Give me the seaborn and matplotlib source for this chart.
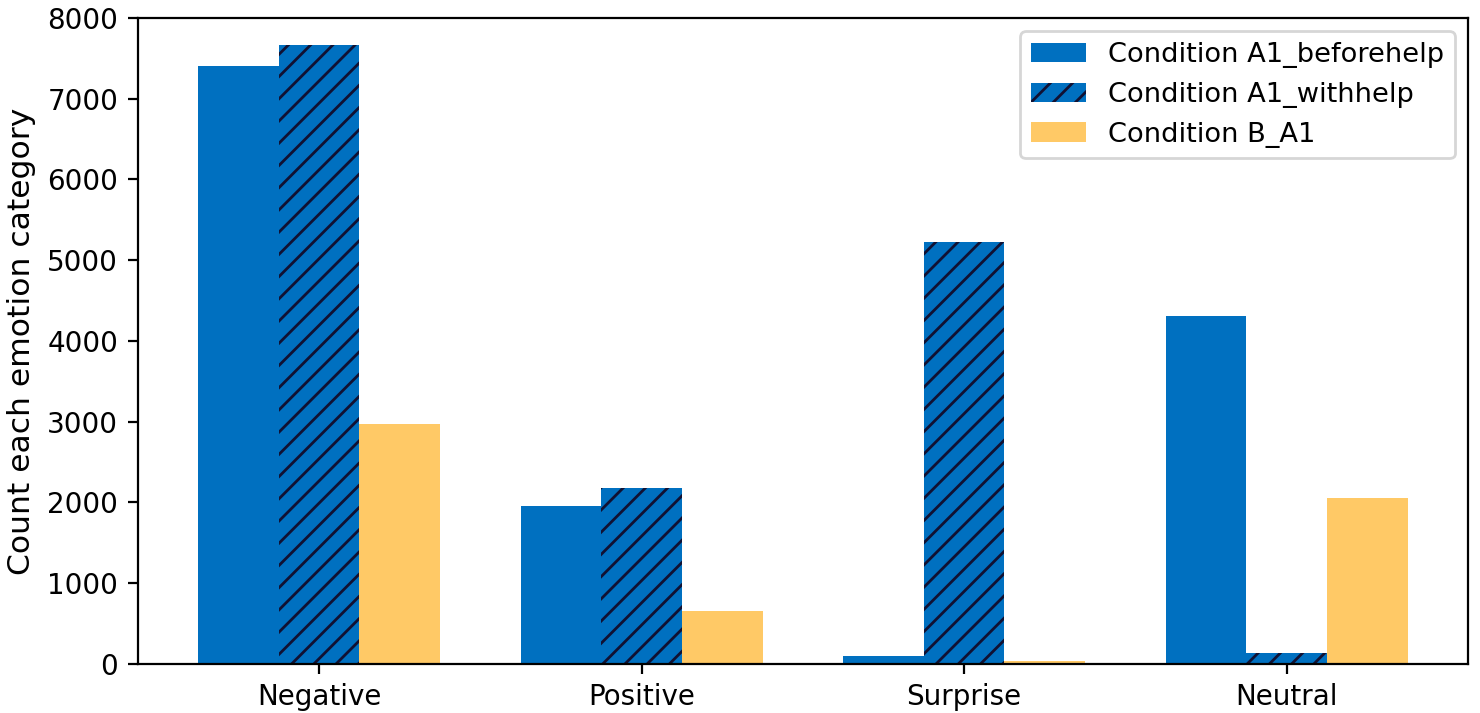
import numpy as np
import pandas as pd
import matplotlib
matplotlib.use('Agg')
import matplotlib.pyplot as plt
import seaborn as sns

categories = ['Negative', 'Positive', 'Surprise', 'Neutral']
conditions = ['Condition A1_beforehelp', 'Condition A1_withhelp', 'Condition B_A1']
beforehelp = [7400, 1960, 100, 4310]
withhelp = [7660, 2180, 5220, 130]
b_a1 = [2970, 650, 30, 2050]

colors = ['#0070C0', '#0070C0', '#FFC966']

df = pd.DataFrame({
    'emotion': categories * 3,
    'condition': [c for c in conditions for _ in categories],
    'count': beforehelp + withhelp + b_a1,
})

fig, ax = plt.subplots(figsize=(7.4, 3.565), dpi=200)
sns.barplot(data=df, x='emotion', y='count', hue='condition', order=categories,
            hue_order=conditions, palette=colors, width=0.75, ax=ax,
            saturation=1, legend=False)

# hatch the "with help" bars
for bar in ax.containers[1]:
    bar.set_hatch('///')
    bar.set_edgecolor('#111133')
    bar.set_linewidth(0)

ax.set_xlim(-0.5625, 3.5625)
ax.set_ylim(0, 8000)
ax.set_xlabel('')
ax.set_ylabel('Count each emotion category', fontsize=11.3)
ax.tick_params(labelsize=10)
ax.legend(ax.containers, conditions, loc='upper right', fontsize=9.8)

fig.subplots_adjust(left=0.093, right=0.992, top=0.975, bottom=0.069)
fig.savefig('out.png', dpi=200)
